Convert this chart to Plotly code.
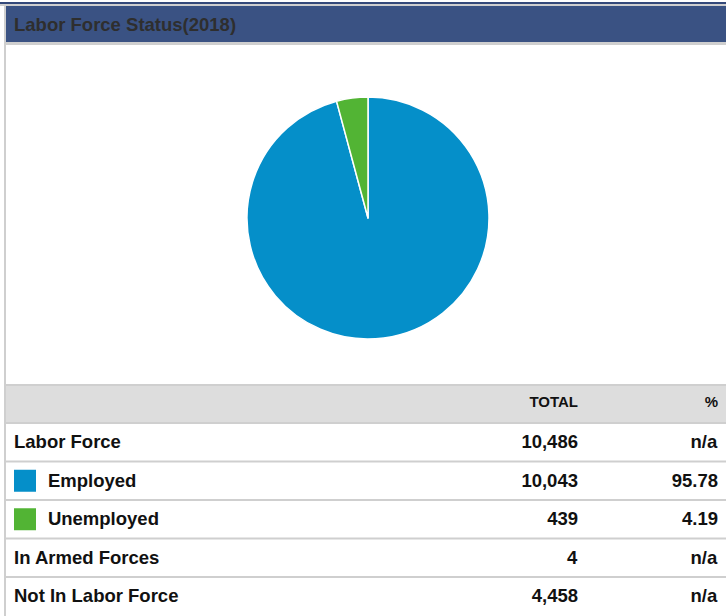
import plotly.graph_objects as go

W, H = 726, 616

# data
title = "Labor Force Status(2018)"
pie_labels = ["Employed", "Unemployed"]
pie_values = [10043, 439]
pie_colors = ["#058fc9", "#52b434"]

row_labels = ["Labor Force", "Employed", "Unemployed", "In Armed Forces", "Not In Labor Force"]
row_totals = ["10,486", "10,043", "439", "4", "4,458"]
row_pcts = ["n/a", "95.78", "4.19", "n/a", "n/a"]
indented = [False, True, True, False, False]
header_cols = ["", "TOTAL", "%"]

# layout constants (pixels)
TABLE_TOP = 385
HEADER_H = 38
ROW_H = 38.5
GRAY = "#cfcfcf"
FONT = "Liberation Sans, Arial, sans-serif"


def py(px):
    return 1 - px / H


def pxx(px):
    return px / W


fig = go.Figure()

fig.add_trace(go.Pie(
    labels=pie_labels,
    values=pie_values,
    marker=dict(colors=pie_colors, line=dict(color="white", width=1.5)),
    textinfo="none",
    sort=False,
    direction="clockwise",
    rotation=0,
    showlegend=False,
    domain=dict(x=[pxx(247), pxx(489)], y=[py(339), py(97)]),
))

indent = "\u2003\u2002\u2004"
first_col = [(indent if ind else "") + "<b>" + lab + "</b>"
             for lab, ind in zip(row_labels, indented)]

fig.add_trace(go.Table(
    domain=dict(x=[pxx(6), 1], y=[0, py(TABLE_TOP)]),
    columnwidth=[430, 150, 140],
    header=dict(
        values=["<b>" + h + "</b>" for h in header_cols],
        fill_color="#dddddd",
        line=dict(color="#dddddd", width=1),
        align=["left", "right", "right"],
        font=dict(family=FONT, size=15, color="#111111"),
        height=HEADER_H,
    ),
    cells=dict(
        values=[first_col,
                ["<b>" + v + "</b>" for v in row_totals],
                ["<b>" + v + "</b>" for v in row_pcts]],
        fill_color="white",
        line=dict(color="white", width=1),
        align=["left", "right", "right"],
        font=dict(family=FONT, size=18.5, color="#111111"),
        height=ROW_H,
    ),
))

shapes = []
# header bar
shapes.append(dict(type="rect", xref="paper", yref="paper", x0=0, x1=1, y0=py(4), y1=py(2),
                   fillcolor="#34497a", line_width=0))
shapes.append(dict(type="rect", xref="paper", yref="paper", x0=0, x1=1, y0=py(6), y1=py(4),
                   fillcolor=GRAY, line_width=0))
shapes.append(dict(type="rect", xref="paper", yref="paper", x0=pxx(6), x1=1, y0=py(42), y1=py(6),
                   fillcolor="#3a5283", line_width=0))
shapes.append(dict(type="rect", xref="paper", yref="paper", x0=pxx(6), x1=1, y0=py(45), y1=py(42),
                   fillcolor=GRAY, line_width=0))
# left border
shapes.append(dict(type="rect", xref="paper", yref="paper", x0=pxx(4), x1=pxx(6), y0=0, y1=py(4),
                   fillcolor=GRAY, line_width=0))
# table horizontal rules
rule_ys = [TABLE_TOP, TABLE_TOP + HEADER_H] + [TABLE_TOP + HEADER_H + ROW_H * (i + 1) for i in range(len(row_labels) - 1)]
for y in rule_ys:
    shapes.append(dict(type="rect", xref="paper", yref="paper", x0=pxx(6), x1=1,
                       y0=py(y + 1), y1=py(y - 1), fillcolor=GRAY, line_width=0))
# colour keys in the first column
for i, ind in enumerate(indented):
    if ind:
        cy = TABLE_TOP + HEADER_H + ROW_H * (i + 0.5)
        shapes.append(dict(type="rect", xref="paper", yref="paper", x0=pxx(14), x1=pxx(36),
                           y0=py(cy + 11), y1=py(cy - 11),
                           fillcolor=pie_colors[pie_labels.index(row_labels[i])], line_width=0))

fig.update_layout(
    width=W, height=H,
    margin=dict(l=0, r=0, t=0, b=0),
    paper_bgcolor="white",
    plot_bgcolor="white",
    shapes=shapes,
    annotations=[dict(
        text="<b>" + title + "</b>", xref="paper", yref="paper",
        x=pxx(12), y=py(24), xanchor="left", yanchor="middle", showarrow=False,
        font=dict(family=FONT, size=18.5, color="#2e2e2e"),
    )],
)

# drop the default page margin so the figure sits at the window's corner
fig.write_html("out.html", config={"displayModeBar": False},
               post_script="document.body.style.margin='0';")
